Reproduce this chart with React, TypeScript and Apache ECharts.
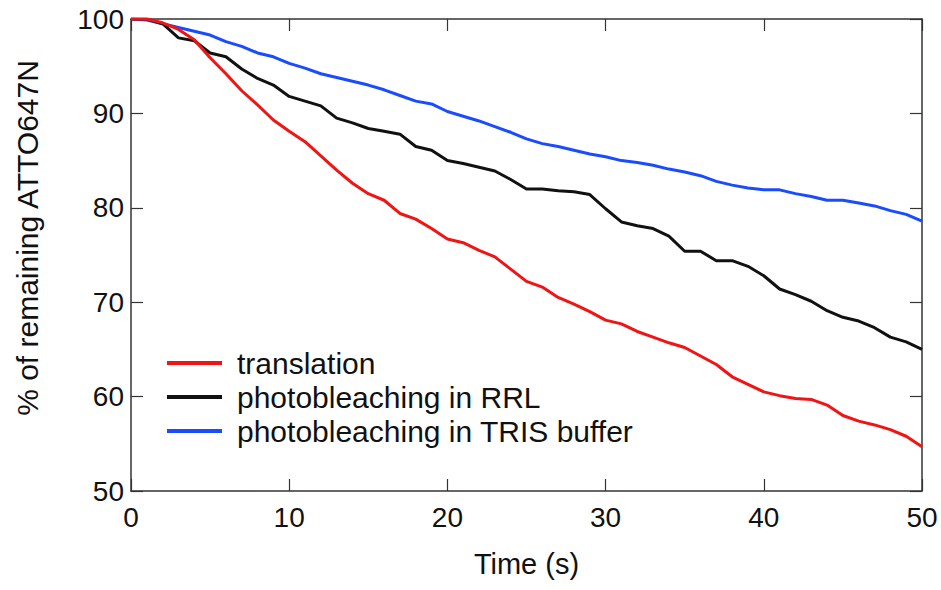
import React, { useEffect, useRef } from "react";
import * as echarts from "echarts";

const time: number[] = Array.from({ length: 51 }, (_, i) => i);

const translation: number[] = [
  100, 100, 99.6, 98.9, 97.8, 95.9, 94.2, 92.4, 90.9, 89.3,
  88.1, 87.0, 85.5, 84.0, 82.6, 81.5, 80.8, 79.4, 78.8, 77.8,
  76.7, 76.3, 75.5, 74.8, 73.5, 72.2, 71.6, 70.5, 69.8, 69.0,
  68.1, 67.7, 66.9, 66.3, 65.7, 65.2, 64.3, 63.4, 62.1, 61.3,
  60.5, 60.1, 59.8, 59.7, 59.1, 58.0, 57.4, 57.0, 56.5, 55.8,
  54.7,
];

const rrl: number[] = [
  100, 100, 99.5, 98.0, 97.7, 96.4, 96.0, 94.7, 93.7, 93.0,
  91.8, 91.3, 90.8, 89.5, 89.0, 88.4, 88.1, 87.8, 86.5, 86.1,
  85.0, 84.7, 84.3, 83.9, 83.0, 82.0, 82.0, 81.8, 81.7, 81.4,
  79.9, 78.5, 78.1, 77.8, 77.0, 75.4, 75.4, 74.4, 74.4, 73.8,
  72.8, 71.4, 70.8, 70.1, 69.1, 68.4, 68.0, 67.3, 66.3, 65.8,
  65.0,
];

const tris: number[] = [
  100, 99.9, 99.5, 99.1, 98.7, 98.3, 97.6, 97.1, 96.4, 96.0,
  95.3, 94.8, 94.2, 93.8, 93.4, 93.0, 92.5, 91.9, 91.3, 91.0,
  90.2, 89.7, 89.2, 88.6, 88.0, 87.3, 86.8, 86.5, 86.1, 85.7,
  85.4, 85.0, 84.8, 84.5, 84.1, 83.8, 83.4, 82.8, 82.4, 82.1,
  81.9, 81.9, 81.5, 81.2, 80.8, 80.8, 80.5, 80.2, 79.7, 79.3,
  78.6,
];

const seriesNames = ["translation", "photobleaching in RRL", "photobleaching in TRIS buffer"];
const seriesColors = ["#f01414", "#111111", "#1a4cff"];

const FONT = "'Liberation Sans', Arial, sans-serif";
const AXIS_COLOR = "#333333";

export default function App() {
  const ref = useRef<HTMLDivElement>(null);

  useEffect(() => {
    document.body.style.margin = "0";
    document.body.style.overflow = "hidden";
    if (!ref.current) return;
    const chart = echarts.init(ref.current, null, { renderer: "svg" });
    const values = [translation, rrl, tris];

    const axisCommon = {
      axisLine: { show: true, onZero: false, lineStyle: { color: AXIS_COLOR, width: 1.5 } },
      axisTick: { show: true, inside: true, length: 12, lineStyle: { color: AXIS_COLOR, width: 1.2 } },
      splitLine: { show: false },
    };

    chart.setOption({
      animation: false,
      backgroundColor: "#ffffff",
      textStyle: { fontFamily: FONT },
      grid: { left: 131, right: 19, top: 19, bottom: 99, containLabel: false },
      legend: {
        orient: "vertical",
        left: 162,
        top: 341,
        padding: 5,
        itemWidth: 55,
        itemHeight: 4,
        itemGap: 0,
        icon: "rect",
        data: seriesNames,
        textStyle: {
          fontFamily: FONT,
          fontSize: 30,
          color: "#111111",
          lineHeight: 34,
          padding: [0, 0, 0, 10],
        },
      },
      xAxis: [
        {
          type: "value",
          min: 0,
          max: 50,
          interval: 10,
          position: "bottom",
          name: "Time (s)",
          nameLocation: "middle",
          nameGap: 58,
          nameTextStyle: { fontFamily: FONT, fontSize: 29, color: "#111111" },
          axisLabel: { fontFamily: FONT, fontSize: 28, color: "#111111", margin: 12 },
          ...axisCommon,
        },
        {
          type: "value",
          min: 0,
          max: 50,
          interval: 10,
          position: "top",
          axisLabel: { show: false },
          ...axisCommon,
        },
      ],
      yAxis: [
        {
          type: "value",
          min: 50,
          max: 100,
          interval: 10,
          position: "left",
          axisLabel: { fontFamily: FONT, fontSize: 28, color: "#111111", margin: 7 },
          ...axisCommon,
        },
        {
          type: "value",
          min: 50,
          max: 100,
          interval: 10,
          position: "right",
          axisLabel: { show: false },
          ...axisCommon,
        },
      ],
      graphic: [
        {
          type: "text",
          x: 27,
          y: 238,
          rotation: Math.PI / 2,
          style: {
            text: "% of remaining ATTO647N",
            fontFamily: FONT,
            fontSize: 30,
            fill: "#111111",
            align: "center",
            verticalAlign: "middle",
          },
        },
      ],
      series: seriesNames.map((name, k) => ({
        name,
        type: "line",
        xAxisIndex: 0,
        yAxisIndex: 0,
        data: time.map((t, i) => [t, values[k][i]]),
        showSymbol: false,
        symbol: "none",
        lineStyle: { color: seriesColors[k], width: 3 },
        itemStyle: { color: seriesColors[k] },
        z: 3 - k,
      })),
    });

    return () => chart.dispose();
  }, []);

  return (
    <div
      ref={ref}
      style={{ position: "absolute", left: 0, top: 0, width: 941, height: 590 }}
    />
  );
}
